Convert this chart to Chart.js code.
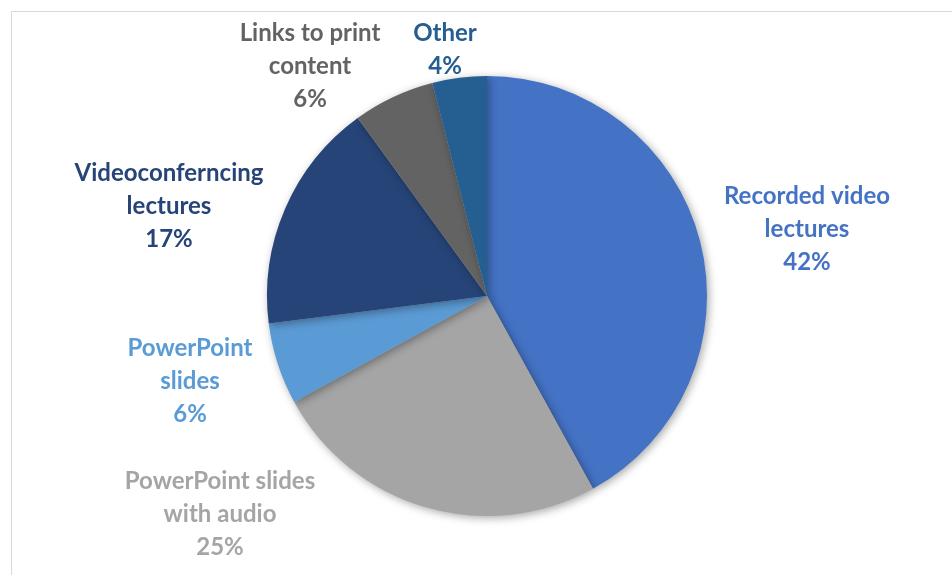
<!DOCTYPE html>
<html lang="en">
<head>
    <meta charset="UTF-8">
    <script src="https://cdn.jsdelivr.net/npm/chart.js"></script>
    <title>Lecture Formats</title>
    <style>
      html, body { margin: 0; padding: 0; background: #fff; }
      #wrap { position: relative; width: 952px; height: 575px; }
      #frame { position: absolute; left: 11px; top: 11px; right: -2px; bottom: -2px; border: 1px solid #d9d9d9; }
    </style>
</head>
<body>
  <div id="wrap">
    <div id="frame"></div>
    <canvas id="pieChart" width="952" height="575"></canvas>
  </div>

  <script>
    const categories = [
      'Recorded video lectures',
      'PowerPoint slides with audio',
      'PowerPoint slides',
      'Videoconferncing lectures',
      'Links to print content',
      'Other'
    ];
    const shares = [42, 25, 6, 17, 6, 4];

    // how each category label is wrapped on the chart
    const labelLines = [
      ['Recorded video', 'lectures'],
      ['PowerPoint slides', 'with audio'],
      ['PowerPoint', 'slides'],
      ['Videoconferncing', 'lectures'],
      ['Links to print', 'content'],
      ['Other']
    ];

    const colors = ['#4472C4', '#A5A5A5', '#5B9BD5', '#264478', '#636363', '#255E91'];

    // label block centres, as offsets from the pie centre
    const labelOffsets = [
      [320, -67], [-267, 218], [-297, 85], [-318, -90], [-177, -230], [-42, -246]
    ];

    const outsideLabels = {
      id: 'outsideLabels',
      afterDatasetsDraw(chart) {
        const ctx = chart.ctx;
        const arc = chart.getDatasetMeta(0).data[0];
        const cx = arc.x, cy = arc.y;
        ctx.save();
        ctx.font = 'bold 24px Lato';
        ctx.textAlign = 'center';
        ctx.textBaseline = 'middle';
        const lh = 33;
        shares.forEach((v, i) => {
          const lines = labelLines[i].concat([v + '%']);
          const x = cx + labelOffsets[i][0];
          const y0 = cy + labelOffsets[i][1] - (lines.length - 1) * lh / 2;
          ctx.fillStyle = colors[i];
          lines.forEach((t, j) => ctx.fillText(t, x, y0 + j * lh));
        });
        ctx.restore();
      }
    };

    const pieShadow = {
      id: 'pieShadow',
      beforeDatasetDraw(chart) {
        const ctx = chart.ctx;
        ctx.save();
        ctx.shadowColor = 'rgba(0,0,0,0.35)';
        ctx.shadowBlur = 8;
        ctx.shadowOffsetX = 2;
        ctx.shadowOffsetY = 2;
      },
      afterDatasetDraw(chart) {
        chart.ctx.restore();
      }
    };

    const ctx = document.getElementById('pieChart').getContext('2d');
    new Chart(ctx, {
      type: 'pie',
      data: {
        labels: categories,
        datasets: [{
          data: shares,
          backgroundColor: colors,
          borderWidth: 0
        }]
      },
      options: {
        responsive: false,
        animation: false,
        layout: { padding: { top: 76, bottom: 59, left: 267, right: 245 } },
        plugins: {
          legend: { display: false },
          tooltip: { enabled: false }
        }
      },
      plugins: [pieShadow, outsideLabels]
    });
  </script>
</body>
</html>
